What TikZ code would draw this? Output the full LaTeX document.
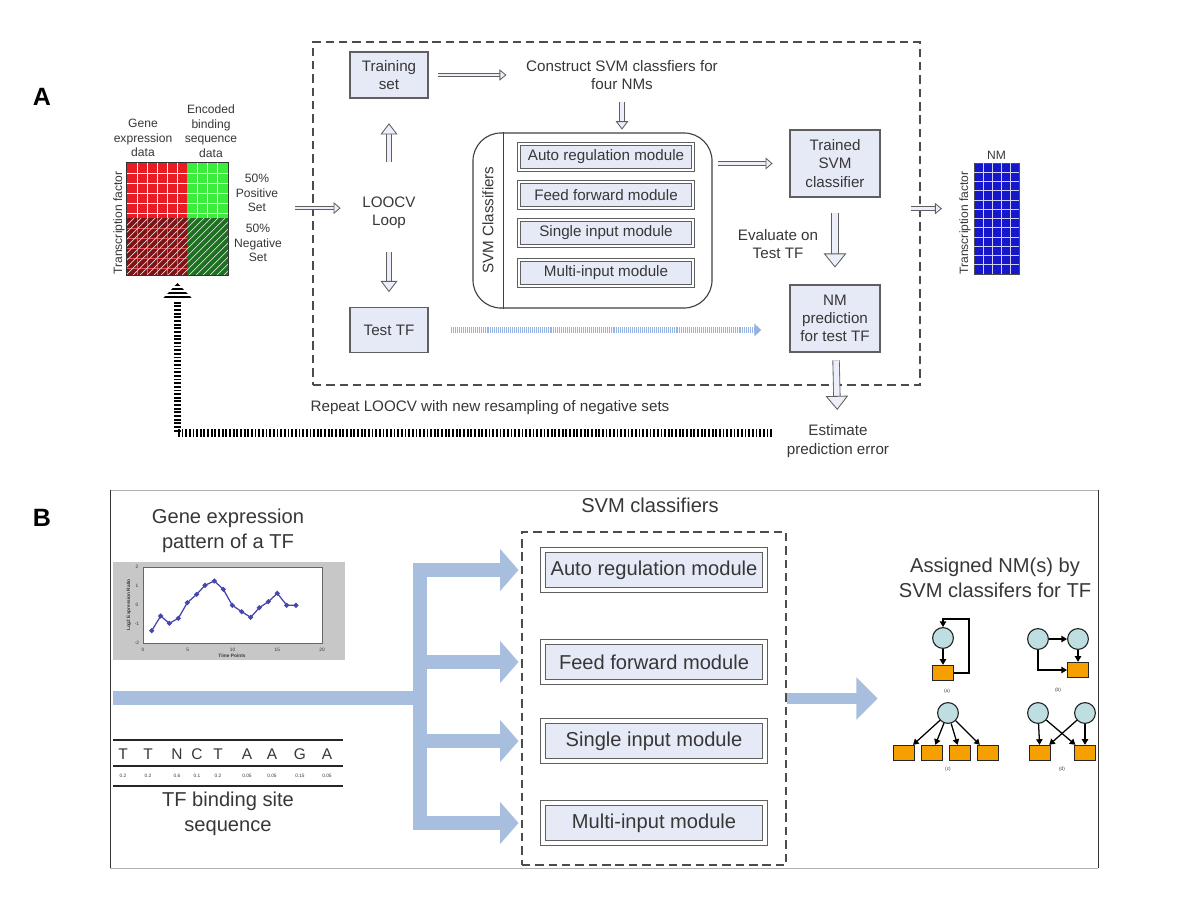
\documentclass[tikz,border=0pt]{standalone}
\usepackage{fontspec}
\setmainfont{Liberation Sans}
\usetikzlibrary{arrows.meta,positioning,calc}

\definecolor{boxfill}{RGB}{230,234,246}
\definecolor{arrfill}{RGB}{236,239,249}
\definecolor{edgegray}{RGB}{95,95,95}
\definecolor{txt}{RGB}{55,55,55}
\definecolor{hred}{RGB}{232,28,36}
\definecolor{hgreen}{RGB}{60,238,60}
\definecolor{hdred}{RGB}{128,18,22}
\definecolor{hdgreen}{RGB}{28,112,32}
\definecolor{nmblue}{RGB}{22,22,205}
\definecolor{busblue}{RGB}{168,190,222}
\definecolor{dotblue}{RGB}{150,178,226}
\definecolor{motifcyan}{RGB}{190,222,226}
\definecolor{motiforange}{RGB}{246,160,0}
\definecolor{plotblue}{RGB}{70,70,175}

\newcommand\sizeA{\fontsize{10.8}{13}\selectfont}
\newcommand\sizeS{\fontsize{8.6}{10.4}\selectfont}
\newcommand\sizeB{\fontsize{14.3}{17.5}\selectfont}
\newcommand\sizeT{\fontsize{3.4}{4}\selectfont}

\tikzset{
  box/.style={draw=edgegray, line width=0.8pt, fill=boxfill, align=center,
    font=\sizeA, text=txt, inner sep=0pt},
  modA/.style={draw=edgegray, line width=0.6pt, double=white, double distance=1.6pt,
    fill=boxfill, font=\sizeA, text=txt, minimum width=4.35cm, minimum height=0.65cm, inner sep=0pt},
  modB/.style={draw=edgegray, line width=0.7pt, double=white, double distance=3.2pt,
    fill=boxfill, font=\sizeB, text=txt, minimum width=5.55cm, minimum height=1.0cm, inner sep=0pt},
  lbl/.style={align=center, font=\sizeA, text=txt},
  small/.style={align=center, font=\sizeS, text=txt},
  big/.style={align=center, font=\sizeB, text=txt},
  tinylbl/.style={font=\sizeT, text=txt},
  hollow/.style n args={3}{draw=edgegray, line width=0.6pt, double=arrfill, double distance=#1,
    -{Triangle[open, fill=arrfill, line width=0.6pt, length=#2, width=#3]}},
  feedback/.style={line width=5.6pt, dash pattern=on 1.3pt off 1.3pt,
    -{Triangle[length=12pt, width=22pt]}},
  dotarrow/.style={dotblue, line width=4pt, dash pattern=on 0.7pt off 0.7pt,
    -{Triangle[length=5pt, width=9pt]}},
  bus/.style={busblue, line width=10.5pt},
  busarrow/.style={busblue, line width=10.5pt, -{Triangle[length=13pt, width=29pt]}},
  motifnode/.style={circle, draw=black!85, fill=motifcyan, line width=0.8pt,
    minimum size=0.52cm, inner sep=0pt},
  motifsq/.style={draw=black!85, fill=motiforange, line width=0.8pt,
    minimum width=0.52cm, minimum height=0.38cm, inner sep=0pt},
  motifedge/.style={line width=0.9pt, -{Triangle[length=4pt, width=4.5pt]}},
}

\begin{document}
\begin{tikzpicture}[x=0.025cm, y=-0.025cm]
\useasboundingbox (0,0) rectangle (1200,900);

% ---------------- panel A ----------------
\node[font=\fontsize{17.8}{20}\selectfont\bfseries] (labA) at (42,97) {A};
\node[draw=black!70, line width=0.9pt, dash pattern=on 6pt off 3.5pt,
  minimum width=15.175cm, minimum height=8.575cm] (loopbox) at (616.5,213.5) {};

\node[box, minimum width=1.95cm, minimum height=1.15cm] (train) at (389,75) {Training\\set};
\node[lbl] (construct) at (622,75) {Construct SVM classfiers for\\four NMs};
\node[lbl] (loocv) at (389,213) {LOOCV\\Loop};
\node[box, minimum width=1.95cm, minimum height=1.125cm] (testtf) at (389,330) {Test TF};

% classifier block
\node[draw=black!75, line width=0.8pt, rounded corners=0.7cm, minimum width=5.975cm,
  minimum height=4.375cm] (svm) at (592.5,220.5) {};
\draw[black!75, line width=0.8pt] ([xshift=0.775cm]svm.north west) -- ([xshift=0.775cm]svm.south west);
\node[lbl, rotate=90] (svmlab) at (488,220) {SVM Classifiers};
\foreach \nm/\yy/\txt in {autoA/157/Auto regulation module, feedA/195/Feed forward module,
    singleA/233/Single input module, multiA/273/Multi-input module}
  \node[modA] (\nm) at (606,\yy) {\txt};

\node[box, minimum width=2.25cm, minimum height=1.675cm] (trained) at (835,163.5) {Trained\\SVM\\classifier};
\node[lbl] (evaluate) at (778,244) {Evaluate on\\Test TF};
\node[box, minimum width=2.25cm, minimum height=1.675cm] (predict) at (835,318.5) {NM\\prediction\\for test TF};
\node[lbl] (estimate) at (838,441) {Estimate\\prediction error};
\node[lbl] (repeat) at (490,408) {Repeat LOOCV with new resampling of negative sets};

% input matrix
\node[inner sep=0pt, minimum width=2.525cm, minimum height=2.8cm] (heat) at (177.5,219) {};
\fill[hred] (127,163) rectangle (187,218);
\fill[hgreen] (187,163) rectangle (228,218);
\fill[hdred] (127,218) rectangle (187,275);
\fill[hdgreen] (187,218) rectangle (228,275);
\foreach \x in {137,147,...,177,197,207,217}
  \draw[white, line width=0.5pt] (\x,163) -- (\x,218);
\foreach \y in {173,183,...,213}
  \draw[white, line width=0.5pt] (127,\y) -- (228,\y);
\foreach \x in {137,147,...,177}
  \draw[hred!75, line width=0.4pt] (\x,218) -- (\x,275);
\foreach \y in {228,238,...,268}
  \draw[hred!75, line width=0.4pt] (127,\y) -- (187,\y);
\begin{scope}
\clip (127,218) rectangle (228,275);
\foreach \d in {0,7,...,168}
  \draw[white!85!black, line width=0.5pt] ({70+\d},275) -- ({127+\d},218);
\end{scope}
\draw[black!80, line width=0.6pt] (heat.north west) rectangle (heat.south east);
\node[small] (gexp) at (143,138) {Gene\\expression\\data};
\node[small] (encb) at (211,131) {Encoded\\binding\\sequence\\data};
\node[small] (pos) at (257,193) {50\%\\Positive\\Set};
\node[small] (neg) at (258,243) {50\%\\Negative\\Set};
\node[small, rotate=90] (tfA) at (119,223) {Transcription factor};

% output matrix
\node[fill=nmblue, draw=black!70, line width=0.5pt, minimum width=1.125cm,
  minimum height=2.775cm, inner sep=0pt] (nmmat) at (996.5,218.5) {};
\foreach \x in {983,992,1001,1010}
  \draw[white!80!nmblue, line width=0.6pt] (\x,163) -- (\x,274);
\foreach \y in {172.25,181.5,...,266}
  \draw[white!80!nmblue, line width=0.6pt] (974,\y) -- (1019,\y);
\node[small, above=-1pt of nmmat] (nmlab) {NM};
\node[small, rotate=90] (tfB) at (965,223) {Transcription factor};

% connectors
\draw[hollow={1.8pt}{5pt}{8pt}, shorten <=7pt, shorten >=10.5pt] (train) -- (construct);
\draw[hollow={2.4pt}{6pt}{9pt}, shorten <=5pt, shorten >=2pt] (construct) -- (construct |- svm.north);
\draw[hollow={3pt}{8pt}{12pt}, shorten <=21pt, shorten >=17.5pt] (loocv) -- (train);
\draw[hollow={3pt}{8pt}{12pt}, shorten <=12.5pt, shorten >=10.5pt] (loocv) -- (testtf);
\draw[hollow={2pt}{5pt}{8.5pt}, shorten <=3.5pt, shorten >=12pt] (svm.east |- trained) -- (trained);
\draw[hollow={4pt}{10pt}{16pt}, shorten <=11pt, shorten >=12pt] (trained) -- (predict);
\draw[hollow={4pt}{10pt}{16pt}, shorten <=5.5pt, shorten >=7pt] (predict) -- (estimate);
\draw[dotarrow, shorten <=16pt, shorten >=20pt] (testtf.east) -- (testtf.east -| predict.west);
\draw[hollow={1.8pt}{5pt}{8.5pt}, shorten <=8.5pt, shorten >=12pt]
  ([yshift=3.5pt]loocv.west -| pos.east) -- ([yshift=3.5pt]loocv.west);
\draw[hollow={1.8pt}{5pt}{8pt}, shorten <=-7pt, shorten >=22.5pt]
  ([yshift=3.5pt]loopbox.east) -- ([yshift=3.5pt]loopbox.east -| nmmat.west);
\coordinate (fbstart) at (772,433);
\draw[feedback, shorten >=5.5pt] (fbstart) -| (heat.south);
% stripes across the feedback head
\foreach \y in {287,291,...,299}
  \draw[white, line width=1pt] (158,\y) -- (197,\y);

% ---------------- panel B ----------------
\node[font=\fontsize{17.8}{20}\selectfont\bfseries] (labB) at (42,518) {B};
\draw[black!30, line width=0.6pt] (110,490) -- (1098,490) (110,868) -- (1098,868);
\draw[black!80, line width=0.6pt] (110,490) -- (110,868) (1098,490) -- (1098,868);

% expression pattern
\node[big] (genetitle) at (228,531) {Gene expression\\pattern of a TF};
\fill[black!22] (113,562) rectangle (345,660);
\fill[white] (143,567) rectangle (322,643);
\draw[black!60, line width=0.3pt] (143,567) rectangle (322,643);
\foreach \t in {0,5,10,15,20}
  \node[tinylbl] (xt\t) at ({143+8.95*\t},650) {\t};
\foreach \v in {2,1,0,-1,-2}
  \node[tinylbl] (yt\v) at (137,{605-19*(\v)}) {\v};
\node[font=\sizeT\bfseries, text=txt] (xlab) at (232,655.5) {Time Points};
\node[font=\sizeT\bfseries, text=txt, rotate=90] (ylab) at (129,605) {Log2 Expression Ratio};
\draw[plotblue, line width=0.9pt] plot[mark=*, mark size=1.3pt] coordinates {
  (151.7,630.7) (160.7,616) (169.3,623.3) (178.3,618.3) (187.3,602.7) (196.7,594.3)
  (205,585.3) (214.3,581) (223.3,589.3) (232.3,605.3) (241.7,611.7) (250.7,617.3)
  (259.3,607.7) (268.3,601.7) (277.3,593.3) (286.7,605.3) (296,605.3)};

% binding site sequence
\draw[black!85, line width=1.1pt] (113,740) -- (343,740) (113,766) -- (343,766) (113,786) -- (343,786);
\foreach \x/\b in {123/T,148/T,177/N,197/C,218/T,247/A,272/A,300/G,327/A}
  \node[font=\fontsize{11}{12}\selectfont, text=txt] (seq\x) at (\x,754) {\b};
\foreach \x/\p in {123/0.2,148/0.2,177/0.6,197/0.1,218/0.2,247/0.05,272/0.05,300/0.15,327/0.05}
  \node[tinylbl] (prob\x) at (\x,776) {\p};
\node[big] (bindlabel) at (228,814) {TF binding site\\sequence};

% classifiers
\node[draw=black!70, line width=0.9pt, dash pattern=on 6pt off 3.5pt,
  minimum width=6.6cm, minimum height=8.325cm] (svmB) at (654,698.5) {};
\node[big] (svmBlab) at (650,505) {SVM classifiers};
\foreach \nm/\yy/\txt in {autoB/570/Auto regulation module, feedB/662/Feed forward module,
    singleB/741/Single input module, multiB/823/Multi-input module}
  \node[modB] (\nm) at (654,\yy) {\txt};

\coordinate (busin) at (113,698);
\coordinate (split) at (420,698);
\draw[bus] (busin) -- (split);
\draw[bus, line cap=rect] (split |- autoB) -- (split |- multiB);
\foreach \nm in {autoB,feedB,singleB,multiB}
  \draw[busarrow, shorten >=2pt] (split |- \nm) -- (svmB.west |- \nm);

% network motifs
\node[big] (assigned) at (995,578) {Assigned NM(s) by\\SVM classifers for TF};
\node[motifnode] (ca) at (943,638) {};
\node[motifsq] (sa) at (943,673) {};
\draw[motifedge] (ca) -- (sa);
\draw[motifedge] (sa.east) -- ++(15,0) -- ++(0,-54) -| (ca.north);
\node[tinylbl] (la) at (947,691) {(a)};

\node[motifnode] (cb1) at (1038,639) {};
\node[motifnode] (cb2) at (1078,639) {};
\node[motifsq] (sb) at (1078,670) {};
\draw[motifedge] (cb1) -- (cb2);
\draw[motifedge] (cb2) -- (sb);
\draw[motifedge] (cb1) |- (sb);
\node[tinylbl] (lb) at (1058,690) {(b)};

\node[motifnode] (cc) at (948,713) {};
\foreach \i/\x in {1/904,2/932,3/960,4/988} {
  \node[motifsq] (sc\i) at (\x,753) {};
  \draw[motifedge] (cc) -- (sc\i);
}
\node[tinylbl] (lc) at (948,769) {(c)};

\node[motifnode] (cd1) at (1038,713) {};
\node[motifnode] (cd2) at (1085,713) {};
\node[motifsq] (sd1) at (1040,753) {};
\node[motifsq] (sd2) at (1085,753) {};
\draw[motifedge] (cd1) -- (sd1);
\draw[motifedge] (cd1) -- (sd2);
\draw[motifedge] (cd2) -- (sd2);
\draw[motifedge] (cd2) -- (sd1);
\node[tinylbl] (ld) at (1062,769) {(d)};

\draw[busarrow, line width=8.5pt, -{Triangle[length=15pt, width=29pt]}, shorten >=11pt]
  (svmB.east) -- (svmB.east -| sc1.west);
\end{tikzpicture}
\end{document}
